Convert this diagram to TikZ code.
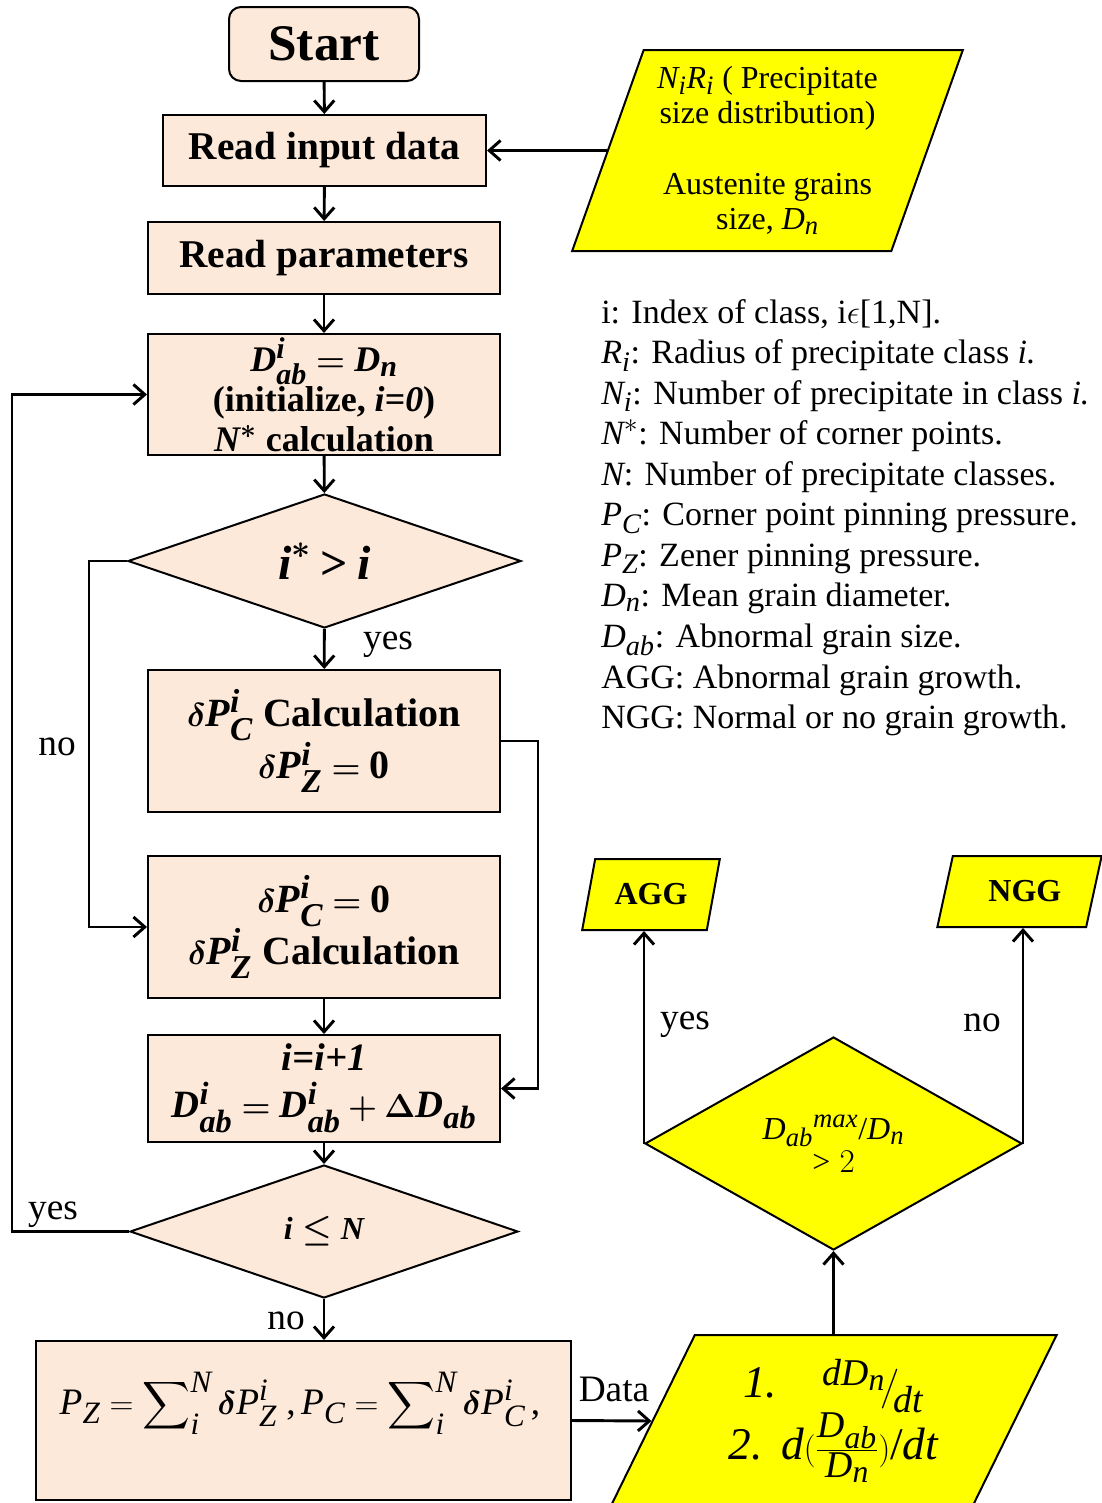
\documentclass[tikz,border=0pt]{standalone}
\usepackage{amsmath}
\usepackage{fontspec}
\setmainfont{Liberation Serif}
\usepackage[italic]{mathastext}
\usepackage{bm}
\usetikzlibrary{shapes.geometric,arrows.meta}

\definecolor{boxfill}{RGB}{253,233,217}
\definecolor{iofill}{RGB}{255,255,0}
\newcommand\fsz[2]{\fontsize{#1}{#2}\selectfont}

\tikzset{
  sz/.style 2 args={minimum width=#1*0.75pt, minimum height=#2*0.75pt},
  wire/.style={line width=2.2pt},
  conn/.style={wire, -{Straight Barb[length=8.5pt,width=15pt]}},
  peach/.style={draw, line width=1.5pt, fill=boxfill, inner sep=0pt, align=center},
  decision/.style={peach, diamond},
  io/.style={draw, line width=1.5pt, fill=iofill, trapezium, trapezium stretches=true,
             inner sep=0pt, align=center},
  lbl/.style={inner sep=0pt, font=\fsz{28}{30}},
}

\begin{document}
\begin{tikzpicture}[x=0.75pt,y=-0.75pt]
\useasboundingbox (0,0) rectangle (1102,1503);

% main column
\node[peach, rounded corners=9pt, sz={190}{74}, font=\fsz{38.5}{40}\bfseries] (start) at (324,44) {Start};
\node[peach, sz={323}{71}, font=\fsz{29.5}{32}\bfseries] (rid) at (324.5,150.5) {Read input data};
\node[peach, sz={352}{72}, font=\fsz{29.5}{32}\bfseries] (rp) at (324,258) {Read parameters};
\node[peach, sz={352}{121}, font=\fsz{27}{30}\bfseries] (init) at (324,394.5)
  {$\bm{D^{i}_{ab} = D_n}$\\(initialize, \textit{i=0})\\$\bm{N^{*}}$ calculation};
\node[decision, sz={393}{134}, font=\fsz{36}{38}] (d1) at (324.5,561) {$\bm{i^{*} > i}$};
\node[peach, sz={352}{142}, font=\fsz{30}{38}\bfseries] (calc1) at (324,741)
  {$\bm{\delta P^{i}_{C}}$ Calculation\\$\bm{\delta P^{i}_{Z} =} \mathbf{0}$};
\node[peach, sz={352}{142}, font=\fsz{30}{38}\bfseries] (calc2) at (324,927)
  {$\bm{\delta P^{i}_{C} =} \mathbf{0}$\\$\bm{\delta P^{i}_{Z}}$ Calculation};
\node[peach, sz={352}{107}, font=\fsz{29}{35}\bfseries] (incr) at (324,1088.5)
  {\textit{i=i+1}\\$\bm{D^{i}_{ab} = D^{i}_{ab} + \Delta D_{ab}}$};
\node[decision, sz={388}{133}, font=\fsz{24}{26}] (d2) at (324,1231.5) {$\bm{i \le N}$};
\node[peach, sz={535}{159}] (sum) at (303.5,1420.5) {};
\node[inner sep=0pt, font=\fsz{28}{30}] (sumtxt) at (300,1403)
  {$P_Z = \displaystyle\sum\nolimits_{i}^{N} \bm{\delta} P^{i}_{Z}\ ,P_C = \sum\nolimits_{i}^{N} \bm{\delta} P^{i}_{C}\,,$};

% input data
\node[io, trapezium left angle=69.3, trapezium right angle=110.7, sz={391}{201},
      font=\fsz{24}{26.5}] (inp) at (767.5,150.5)
  {$N_iR_i$ ( Precipitate\\size distribution)\\[26.5pt]Austenite grains\\size, $D_n$};

% growth evaluation
\node[io, trapezium left angle=62.6, trapezium right angle=117.4, sz={447}{172},
      font=\fsz{34}{46}] (data) at (833.5,1421)
  {$\mathit{1.}\quad {}^{dD_n}\!\big/\!{}_{dt}$\\$\mathit{2.}\;\; d(\frac{D_{ab}}{D_n})/dt$};
\node[diamond, draw, line width=1.5pt, fill=iofill, inner sep=0pt, align=center,
      sz={377}{213}, font=\fsz{24}{25}] (d3) at (833.5,1143.5)
  {$D_{ab}{}^{max}/D_n$\\$> 2$};
\node[io, trapezium left angle=68.5, trapezium right angle=111.5, sz={138}{71},
      font=\fsz{24}{26}\bfseries] (agg) at (651,894.5) {AGG};
\node[io, trapezium left angle=65.7, trapezium right angle=114.3, sz={165}{71},
      font=\fsz{24}{26}\bfseries] (ngg) at (1019.5,891.5) {\hspace*{8pt}NGG};

% legend
\node[anchor=north west, inner sep=0pt, align=left, font=\fsz{25.5}{30.4}] (legend) at (601,299)
  {i: Index of class, i$\epsilon$[1,N].\\
   $R_i$: Radius of precipitate class \textit{i.}\\
   $N_i$: Number of precipitate in class \textit{i.}\\
   $N^{*}$: Number of corner points.\\
   $N$: Number of precipitate classes.\\
   $P_C$: Corner point pinning pressure.\\
   $P_Z$: Zener pinning pressure.\\
   $D_n$: Mean grain diameter.\\
   $D_{ab}$: Abnormal grain size.\\
   AGG: Abnormal grain growth.\\
   NGG: Normal or no grain growth.};

% routing columns
\coordinate (lx) at (12,0);
\coordinate (nx) at (89,0);
\coordinate (rx) at (538,0);

% connectors
\draw[conn] (start) -- (rid);
\draw[conn] (rid) -- (rp);
\draw[conn] (rp) -- (init);
\draw[conn] (init) -- (d1);
\draw[conn] (d1) -- (calc1);
\draw[conn] (calc2) -- (incr);
\draw[conn] (incr) -- (d2);
\draw[conn] (d2.south) -- (d2.south |- sum.north);
\draw[conn] (inp.west) -- (rid.east);
\draw[conn] (d2.west) -- (d2.west -| lx) |- (init.west);
\draw[conn] (d1.west) -- (d1.west -| nx) |- (calc2.west);
\draw[conn] (calc1.east) -- (calc1.east -| rx) |- (incr.east);
\draw[conn] (sum.east) -- (data.west);
\draw[conn] (data.north) -- (d3.south);
\draw[conn] (d3.west) -- (d3.west |- agg.south);
\draw[conn] (d3.east) -- (d3.east |- ngg.south);

% branch labels
\node[lbl] (yes1) at (388,645) {yes};
\node[lbl] (no1) at (57,747) {no};
\node[lbl] (yes2) at (53,1215) {yes};
\node[lbl] (no2) at (286,1321) {no};
\node[lbl] (datalbl) at (614,1389) {Data};
\node[lbl] (yes3) at (685,1025) {yes};
\node[lbl] (no3) at (982,1023) {no};
\end{tikzpicture}
\end{document}
